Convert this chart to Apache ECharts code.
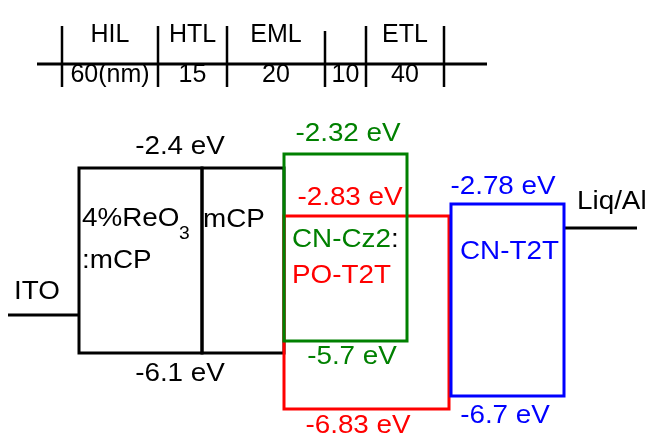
<!DOCTYPE html>
<html><head><meta charset="utf-8">
<script src="https://cdn.jsdelivr.net/npm/echarts@6/dist/echarts.min.js"></script>
<style>html,body{margin:0;padding:0;background:#fff}#c{width:652px;height:436px}</style>
</head><body><div id="c"></div>
<script>
// ---- Layer-thickness ruler ----
const rulerNames = ['HIL', 'HTL', 'EML', '', 'ETL'];
const rulerThickness = ['60(nm)', '15', '20', '10', '40'];
const rulerTicks = [62, 158, 227, 325, 366, 444];   // schematic x of layer boundaries
const rulerSpan = [37, 487];
const rulerLevel = -0.32;                             // schematic y of ruler line

// ---- Energy-level boxes (labels in eV; drawn levels schematic, not to scale) ----
const boxNames = ['4%ReO3:mCP', 'mCP', 'PO-T2T', 'CN-Cz2', 'CN-T2T'];
const boxLeft = [79, 202, 284, 284, 451];
const boxRight = [202, 284, 449, 407, 564];
const lumoDrawn = [-2.4, -2.4, -3.36, -2.12, -3.12];
const homoDrawn = [-6.1, -6.1, -7.22, -5.86, -6.96];
const lumoValues = [-2.4, -2.4, -2.83, -2.32, -2.78];
const homoValues = [-6.1, -6.1, -6.83, -5.7, -6.7];

// ---- Electrodes ----
const electrodeNames = ['ITO', 'Liq/Al'];
const electrodeLeft = [8, 564];
const electrodeRight = [79, 637];
const electrodeDrawn = [-5.34, -3.6];

// ---- styles / layout ----
const FONT = '"Liberation Sans", Arial, sans-serif';
const FS = 26, SX = 1.07;
const boxColors = ['#000', '#000', '#ff0000', '#008000', '#0000ff'];
// label centre x (px), offset above top / below bottom (px); null = not drawn
const lumoLabelPos = [[180, -21], null, [350, -18], [348, -20], [503, -17]];
const homoLabelPos = [[180, 21], null, [358, 17], [352, 16], [505, 20]];

function txt(x, y, text, color, align, size, sx, rich) {
  return {
    type: 'text', x: x, y: y, scaleX: sx || SX,
    style: { text: text, fill: color, font: (size || FS) + 'px ' + FONT,
      align: align || 'center', verticalAlign: 'middle', rich: rich }
  };
}

const chart = echarts.init(document.getElementById('c'));
chart.setOption({
  animation: false,
  backgroundColor: '#fff',
  grid: { left: 0, right: 0, top: 0, bottom: 0 },
  xAxis: { type: 'value', min: 0, max: 652, show: false },
  yAxis: { type: 'value', min: -7.76, max: 0.96, show: false },
  series: [
    { // ruler
      type: 'custom', silent: true,
      data: rulerTicks.map((t, i) => [t, i]),
      renderItem: function (params, api) {
        const i = api.value(1);
        const p = api.coord([api.value(0), rulerLevel]);
        const top = i === 3 ? 33 : 38;
        const ch = [{ type: 'line', shape: { x1: p[0], y1: p[1] - top, x2: p[0], y2: p[1] + 23 },
                      style: { stroke: '#000', lineWidth: 2.5 } }];
        if (i === 0) {
          const a = api.coord([rulerSpan[0], rulerLevel]), b = api.coord([rulerSpan[1], rulerLevel]);
          ch.push({ type: 'line', shape: { x1: a[0], y1: a[1], x2: b[0], y2: b[1] },
                    style: { stroke: '#000', lineWidth: 3 } });
        }
        if (i < rulerTicks.length - 1) {
          const q = api.coord([rulerTicks[i + 1], rulerLevel]);
          const cx = (p[0] + q[0]) / 2;
          ch.push(txt(cx, p[1] - 29, rulerNames[i], '#000', 'center', 25, 1));
          ch.push(txt(cx, p[1] + 11, rulerThickness[i], '#000', 'center', 25, 1));
        }
        return { type: 'group', children: ch };
      }
    },
    { // electrodes
      type: 'custom', silent: true,
      data: electrodeNames.map((n, i) => [electrodeLeft[i], electrodeRight[i], electrodeDrawn[i]]),
      renderItem: function (params, api) {
        const i = params.dataIndex;
        const a = api.coord([api.value(0), api.value(2)]), b = api.coord([api.value(1), api.value(2)]);
        const ch = [{ type: 'line', shape: { x1: a[0], y1: a[1], x2: b[0], y2: b[1] },
                      style: { stroke: '#000', lineWidth: 3 } }];
        if (i === 0) ch.push(txt(a[0] + 6, a[1] - 23, electrodeNames[i], '#000', 'left'));
        else ch.push(txt(a[0] + 13, a[1] - 26, electrodeNames[i], '#000', 'left'));
        return { type: 'group', children: ch };
      }
    },
    { // energy boxes
      type: 'custom', silent: true,
      data: boxNames.map((n, i) => [boxLeft[i], boxRight[i], lumoDrawn[i], homoDrawn[i]]),
      renderItem: function (params, api) {
        const i = params.dataIndex;
        const tl = api.coord([api.value(0), api.value(2)]);
        const br = api.coord([api.value(1), api.value(3)]);
        const col = boxColors[i];
        const ch = [{ type: 'rect', shape: { x: tl[0], y: tl[1], width: br[0] - tl[0], height: br[1] - tl[1] },
                      style: { stroke: col, fill: null, lineWidth: 3 } }];
        if (lumoLabelPos[i]) ch.push(txt(lumoLabelPos[i][0], tl[1] + lumoLabelPos[i][1], lumoValues[i] + ' eV', col));
        if (homoLabelPos[i]) ch.push(txt(homoLabelPos[i][0], br[1] + homoLabelPos[i][1], homoValues[i] + ' eV', col));
        if (i === 0) {
          ch.push(txt(tl[0] + 3, tl[1] + 51, '4%ReO', '#000', 'left'));
          ch.push(txt(tl[0] + 100, tl[1] + 66, '3', '#000', 'left', 18));
          ch.push(txt(tl[0] + 3, tl[1] + 93, ':mCP', '#000', 'left'));
        } else if (i === 1) {
          ch.push(txt(tl[0] + 1, tl[1] + 52, boxNames[i], '#000', 'left'));
        } else if (i === 2) {
          ch.push(txt(tl[0] + 8, tl[1] + 60, boxNames[i], col, 'left'));
        } else if (i === 3) {
          ch.push(txt(tl[0] + 8, tl[1] + 86, '{g|CN-Cz2}{k|:}', col, 'left', FS, SX,
            { g: { fontSize: FS, fontFamily: FONT, fill: col }, k: { fontSize: FS, fontFamily: FONT, fill: '#000' } }));
        } else {
          ch.push(txt(tl[0] + 9, tl[1] + 48, boxNames[i], col, 'left'));
        }
        return { type: 'group', children: ch };
      }
    }
  ]
});
</script>
</body></html>
